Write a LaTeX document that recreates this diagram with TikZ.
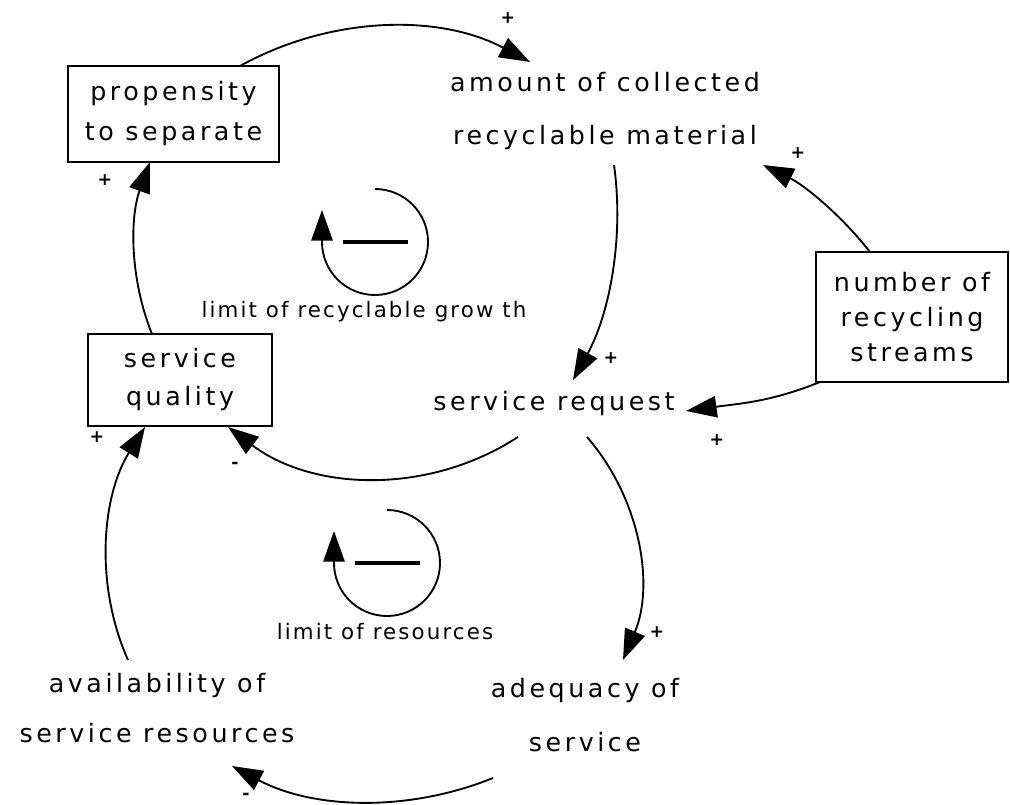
\documentclass[tikz,border=0pt]{standalone}
\usepackage{fontspec}
\newfontfamily\vfont[LetterSpace=14]{DejaVu Sans}
\newfontfamily\lfont[LetterSpace=10]{DejaVu Sans}
\newfontfamily\sgnfont{DejaVu Sans}
\usetikzlibrary{arrows.meta,calc}
\begin{document}
\begin{tikzpicture}[x=0.75pt,y=0.75pt,
  var/.style={inner sep=0pt, align=center},
  boxvar/.style={draw, line width=1.3pt, inner sep=0pt, align=center},
  link/.style={line width=1.4pt, -{Triangle[length=23pt,width=16pt]}},
  sgn/.style={font=\sgnfont\bfseries\fontsize{13}{13}\selectfont, inner sep=0pt},
  looplbl/.style={font=\lfont\fontsize{16}{18}\selectfont, inner sep=0pt},
  minusbar/.style={line width=3pt}
]
\useasboundingbox (0,0) rectangle (1010,-805);
\fill[white] (0,0) rectangle (1010,-805);

% variables
\node[boxvar, minimum width=158pt, minimum height=72pt, font=\vfont\fontsize{19}{30}\selectfont] (prop) at (173.5,-114) {propensity\\to separate};
\node[var, font=\vfont\fontsize{19}{40}\selectfont] (amount) at (605,-111) {amount of collected\\recyclable material};
\node[boxvar, minimum width=144pt, minimum height=97.5pt, font=\vfont\fontsize{19}{26}\selectfont] (num) at (912,-317) {number of\\recycling\\streams};
\node[var, font=\vfont\fontsize{19}{22}\selectfont] (req) at (554,-404) {service request};
\node[boxvar, minimum width=138pt, minimum height=69pt, font=\vfont\fontsize{19}{28.5}\selectfont] (qual) at (180,-380) {service\\quality};
\node[var, font=\vfont\fontsize{19}{37.5}\selectfont] (avail) at (157,-708) {availability of\\service resources};
\node[var, font=\vfont\fontsize{19}{41}\selectfont] (adeq) at (585,-715) {adequacy of\\service};

% links (circular-arc like curves)
\draw[link] ($(prop)+(66.5,48)$) to[out=29,in=152,looseness=0.91] ($(amount)+(-75,49)$);
\draw[link] ($(num)+(-42,65)$) to[out=128,in=-26,looseness=0.86] ($(amount)+(158,-54)$);
\draw[link] ($(num)+(-92,-65)$) to[out=202,in=8] ($(req)+(132,-7)$);
\draw[link] ($(amount)+(9,-54)$) to[out=-82,in=61,looseness=0.87] ($(req)+(19,24)$);
\draw[link] ($(qual)+(-28,46)$) to[out=112,in=-110,looseness=0.88] ($(prop)+(-23.5,-48)$);
\draw[link] ($(req)+(-36,-33)$) to[out=213,in=-37,looseness=0.94] ($(qual)+(48,-47)$);
\draw[link] ($(avail)+(-29,48)$) to[out=114,in=-122,looseness=0.9] ($(qual)+(-35,-47)$);
\draw[link] ($(req)+(33,-33)$) to[out=-49,in=67,looseness=0.92] ($(adeq)+(38,55)$);
\draw[link] ($(adeq)+(-92,-63)$) to[out=202,in=-28,looseness=0.9] ($(avail)+(75,-58)$);

% loop symbols
\coordinate (L1) at (375,-242);
\coordinate (L2) at (387,-563);
\draw[link] ($(L1)+(0,53)$) arc[start angle=90, end angle=-180, radius=53] -- ++(0,32);
\draw[minusbar] ($(L1)+(-32,0)$) -- ($(L1)+(33,0)$);
\draw[link] ($(L2)+(0,53)$) arc[start angle=90, end angle=-180, radius=53] -- ++(0,32);
\draw[minusbar] ($(L2)+(-32,0)$) -- ($(L2)+(33,0)$);
\node[looplbl] (l1) at (364,-312) {limit of recyclable grow th};
\node[looplbl] (l2) at (385,-632) {limit of resources};

% polarity signs
\node[sgn] (s1) at (508,-18) {+};
\node[sgn] (s2) at (798,-153) {+};
\node[sgn] (s3) at (105,-180) {+};
\node[sgn] (s4) at (611,-358) {+};
\node[sgn] (s5) at (717,-440) {+};
\node[sgn] (s6) at (97,-437) {+};
\node[sgn] (s7) at (235,-465) {-};
\node[sgn] (s8) at (657,-632) {+};
\node[sgn] (s9) at (246,-796) {-};
\end{tikzpicture}
\end{document}
